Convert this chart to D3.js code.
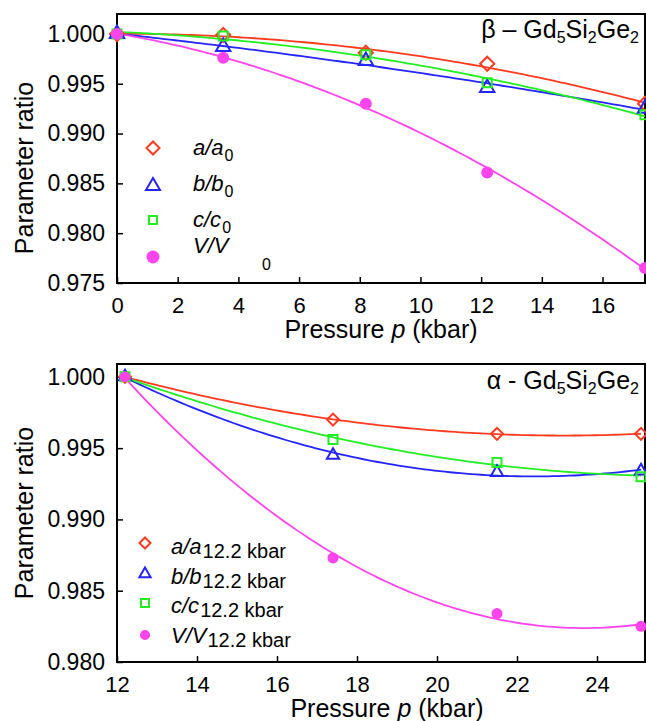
<!DOCTYPE html>
<html>
<head>
<meta charset="utf-8">
<script src="https://cdn.jsdelivr.net/npm/d3@7"></script>
<style>
  body { margin: 0; background: #fff; }
  svg text { font-family: "Liberation Sans", Arial, sans-serif; fill: #000; }
</style>
</head>
<body>
<div id="chart"></div>
<script>
// Data
// beta phase, ratios to ambient pressure
const betaP = [0, 3.5, 8.2, 12.2, 17.4];
const betaA = [1.0000, 0.9999, 0.9981, 0.9970, 0.9930];
const betaB = [1.0000, 0.9987, 0.9973, 0.9946, 0.9925];
const betaC = [1.0000, 0.9998, 0.9979, 0.9951, 0.9919];
const betaV = [1.0000, 0.9976, 0.9930, 0.9861, 0.9765];

// alpha phase, ratios to 12.2 kbar
const alphaP = [12.2, 17.4, 21.5, 25.1];
const alphaA = [1.0000, 0.9970, 0.9960, 0.9960];
const alphaB = [1.0000, 0.9945, 0.9933, 0.9934];
const alphaC = [1.0000, 0.9956, 0.9940, 0.9930];
const alphaV = [1.0000, 0.9873, 0.9834, 0.9825];

// ticks
const betaXTicks = [0, 2, 4, 6, 8, 10, 12, 14, 16];
const betaYTicks = [0.975, 0.980, 0.985, 0.990, 0.995, 1.000];
const alphaXTicks = [12, 14, 16, 18, 20, 22, 24];
const alphaYTicks = [0.980, 0.985, 0.990, 0.995, 1.000];

const seriesNames = ['a', 'b', 'c', 'V'];
const colors = ['#ff3a1f', '#2424ff', '#22ee22', '#ff44ee'];

const width = 646;
const height = 721;

const svg = d3.select('#chart')
    .append('svg')
    .attr('width', width)
    .attr('height', height);

// least squares quadratic fit, returns f(x)
function quadFit(xs, ys) {
    const n = xs.length;
    let s = [0, 0, 0, 0, 0], t = [0, 0, 0];
    for (let i = 0; i < n; i++) {
        const x = xs[i], y = ys[i];
        for (let k = 0; k < 5; k++) s[k] += Math.pow(x, k);
        for (let k = 0; k < 3; k++) t[k] += y * Math.pow(x, k);
    }
    // solve 3x3 normal equations
    const m = [
        [s[0], s[1], s[2], t[0]],
        [s[1], s[2], s[3], t[1]],
        [s[2], s[3], s[4], t[2]]
    ];
    for (let i = 0; i < 3; i++) {
        for (let j = i + 1; j < 3; j++) {
            const f = m[j][i] / m[i][i];
            for (let k = i; k < 4; k++) m[j][k] -= f * m[i][k];
        }
    }
    const c = [0, 0, 0];
    for (let i = 2; i >= 0; i--) {
        let v = m[i][3];
        for (let k = i + 1; k < 3; k++) v -= m[i][k] * c[k];
        c[i] = v / m[i][i];
    }
    return x => c[0] + c[1] * x + c[2] * x * x;
}

const symbols = [
    { type: d3.symbolSquare, rotate: 45, fill: 'none' },
    { type: d3.symbolTriangle, rotate: 0, fill: 'none' },
    { type: d3.symbolSquare, rotate: 0, fill: 'none' },
    { type: d3.symbolCircle, rotate: 0, fill: 'fill' }
];

function drawPanel(cfg) {
    const g = svg.append('g');

    const x = d3.scaleLinear().domain(cfg.xDomain).range([cfg.left, cfg.right]);
    const y = d3.scaleLinear().domain(cfg.yDomain).range([cfg.bottom, cfg.top]);

    // axes, ticks pointing inward
    g.append('g')
        .attr('transform', `translate(0,${cfg.bottom})`)
        .call(d3.axisBottom(x).tickValues(cfg.xTicks).tickFormat(d3.format('d'))
            .tickSizeInner(-6).tickSizeOuter(0).tickPadding(14))
        .call(a => a.select('.domain').remove())
        .call(a => a.selectAll('line').attr('stroke', '#000').attr('stroke-width', 1.5))
        .call(a => a.selectAll('text').style('font-size', '22px'));

    g.append('g')
        .attr('transform', `translate(${cfg.left},0)`)
        .call(d3.axisLeft(y).tickValues(cfg.yTicks).tickFormat(d3.format('.3f'))
            .tickSizeInner(-6).tickSizeOuter(0).tickPadding(12))
        .call(a => a.select('.domain').remove())
        .call(a => a.selectAll('line').attr('stroke', '#000').attr('stroke-width', 1.5))
        .call(a => a.selectAll('text').style('font-size', '23px'));

    // frame
    g.append('rect')
        .attr('x', cfg.left)
        .attr('y', cfg.top)
        .attr('width', cfg.right - cfg.left)
        .attr('height', cfg.bottom - cfg.top)
        .attr('fill', 'none')
        .attr('stroke', '#000')
        .attr('stroke-width', 2);

    // fitted curves and points
    cfg.series.forEach((ys, i) => {
        const f = quadFit(cfg.p, ys);
        const x0 = cfg.p[0], x1 = cfg.p[cfg.p.length - 1];
        const xs = d3.range(0, 101).map(k => x0 + (x1 - x0) * k / 100);
        g.append('path')
            .datum(xs)
            .attr('fill', 'none')
            .attr('stroke', colors[i])
            .attr('stroke-width', 1.8)
            .attr('d', d3.line().x(d => x(d)).y(d => y(f(d))));
    });

    cfg.series.forEach((ys, i) => {
        const sym = symbols[i];
        g.append('g')
            .selectAll('path')
            .data(cfg.p.map((p, k) => [p, ys[k]]))
            .enter()
            .append('path')
            .attr('transform', d => `translate(${x(d[0])},${y(d[1])}) rotate(${sym.rotate})`)
            .attr('d', d3.symbol().type(sym.type).size(cfg.sizes[i]))
            .attr('fill', sym.fill === 'fill' ? colors[i] : 'none')
            .attr('stroke', sym.fill === 'fill' ? 'none' : colors[i])
            .attr('stroke-width', 2);
    });

    // axis labels
    const xl = g.append('text')
        .attr('x', cfg.xLabelX)
        .attr('y', cfg.xLabelY)
        .attr('text-anchor', 'middle')
        .style('font-size', '25px');
    xl.append('tspan').text('Pressure ');
    xl.append('tspan').style('font-style', 'italic').text('p');
    xl.append('tspan').text(' (kbar)');

    g.append('text')
        .attr('transform', `translate(33,${cfg.yLabelY}) rotate(-90)`)
        .attr('text-anchor', 'middle')
        .style('font-size', '25px')
        .text('Parameter ratio');

    // phase title
    const t = g.append('text')
        .attr('x', 639)
        .attr('y', cfg.titleY)
        .attr('text-anchor', 'end')
        .style('font-size', '25px');
    t.append('tspan').text(cfg.titlePrefix + 'Gd');
    t.append('tspan').attr('dy', 5).style('font-size', '16px').text('5');
    t.append('tspan').attr('dy', -5).text('Si');
    t.append('tspan').attr('dy', 5).style('font-size', '16px').text('2');
    t.append('tspan').attr('dy', -5).text('Ge');
    t.append('tspan').attr('dy', 5).style('font-size', '16px').text('2');

    // legend
    const lg = cfg.legend;
    seriesNames.forEach((name, i) => {
        const sym = symbols[i];
        g.append('path')
            .attr('transform', `translate(${lg.mx},${lg.my[i]}) rotate(${sym.rotate})`)
            .attr('d', d3.symbol().type(sym.type).size(lg.sizes[i]))
            .attr('fill', sym.fill === 'fill' ? colors[i] : 'none')
            .attr('stroke', sym.fill === 'fill' ? 'none' : colors[i])
            .attr('stroke-width', 2);

        const txt = g.append('text')
            .attr('x', lg.tx)
            .attr('y', lg.ty[i])
            .style('font-size', lg.fontSize + 'px');
        txt.append('tspan').style('font-style', 'italic').text(name + '/' + name);
        if (lg.subPos && i === 3) {
            // subscript drifted away from its symbol in the original
            g.append('text')
                .attr('x', lg.subPos[0])
                .attr('y', lg.subPos[1])
                .style('font-size', lg.subSize + 'px')
                .text(lg.sub);
        } else {
            txt.append('tspan')
                .attr('dy', lg.subDy)
                .attr('dx', 1)
                .style('font-size', lg.subSize + 'px')
                .text(lg.sub);
        }
    });
}

// Top panel: beta phase
drawPanel({
    left: 117, right: 645, top: 14, bottom: 283,
    xDomain: [0, 17.4], yDomain: [0.975, 1.002],
    xTicks: betaXTicks, yTicks: betaYTicks,
    p: betaP, series: [betaA, betaB, betaC, betaV],
    sizes: [100, 90, 81, 113],
    xLabelX: 381, xLabelY: 338, yLabelY: 168,
    titleY: 38, titlePrefix: 'β – ',
    legend: {
        mx: 153, my: [148, 186, 220, 257],
        tx: 193, ty: [155, 191, 227, 253],
        fontSize: 22, sub: '0', subSize: 16, subDy: 6,
        subPos: [262, 270],
        sizes: [85, 85, 64, 133]
    }
});

// Bottom panel: alpha phase
drawPanel({
    left: 117, right: 645, top: 364, bottom: 662,
    xDomain: [12, 25.2], yDomain: [0.980, 1.0009],
    xTicks: alphaXTicks, yTicks: alphaYTicks,
    p: alphaP, series: [alphaA, alphaB, alphaC, alphaV],
    sizes: [72, 65, 81, 95],
    xLabelX: 387, xLabelY: 717, yLabelY: 513,
    titleY: 389, titlePrefix: 'α - ',
    legend: {
        mx: 145, my: [543, 574, 603, 635],
        tx: 171, ty: [554, 584, 613, 643],
        fontSize: 22, sub: '12.2 kbar', subSize: 20, subDy: 4,
        subPos: null,
        sizes: [60, 55, 64, 80]
    }
});
</script>
</body>
</html>
